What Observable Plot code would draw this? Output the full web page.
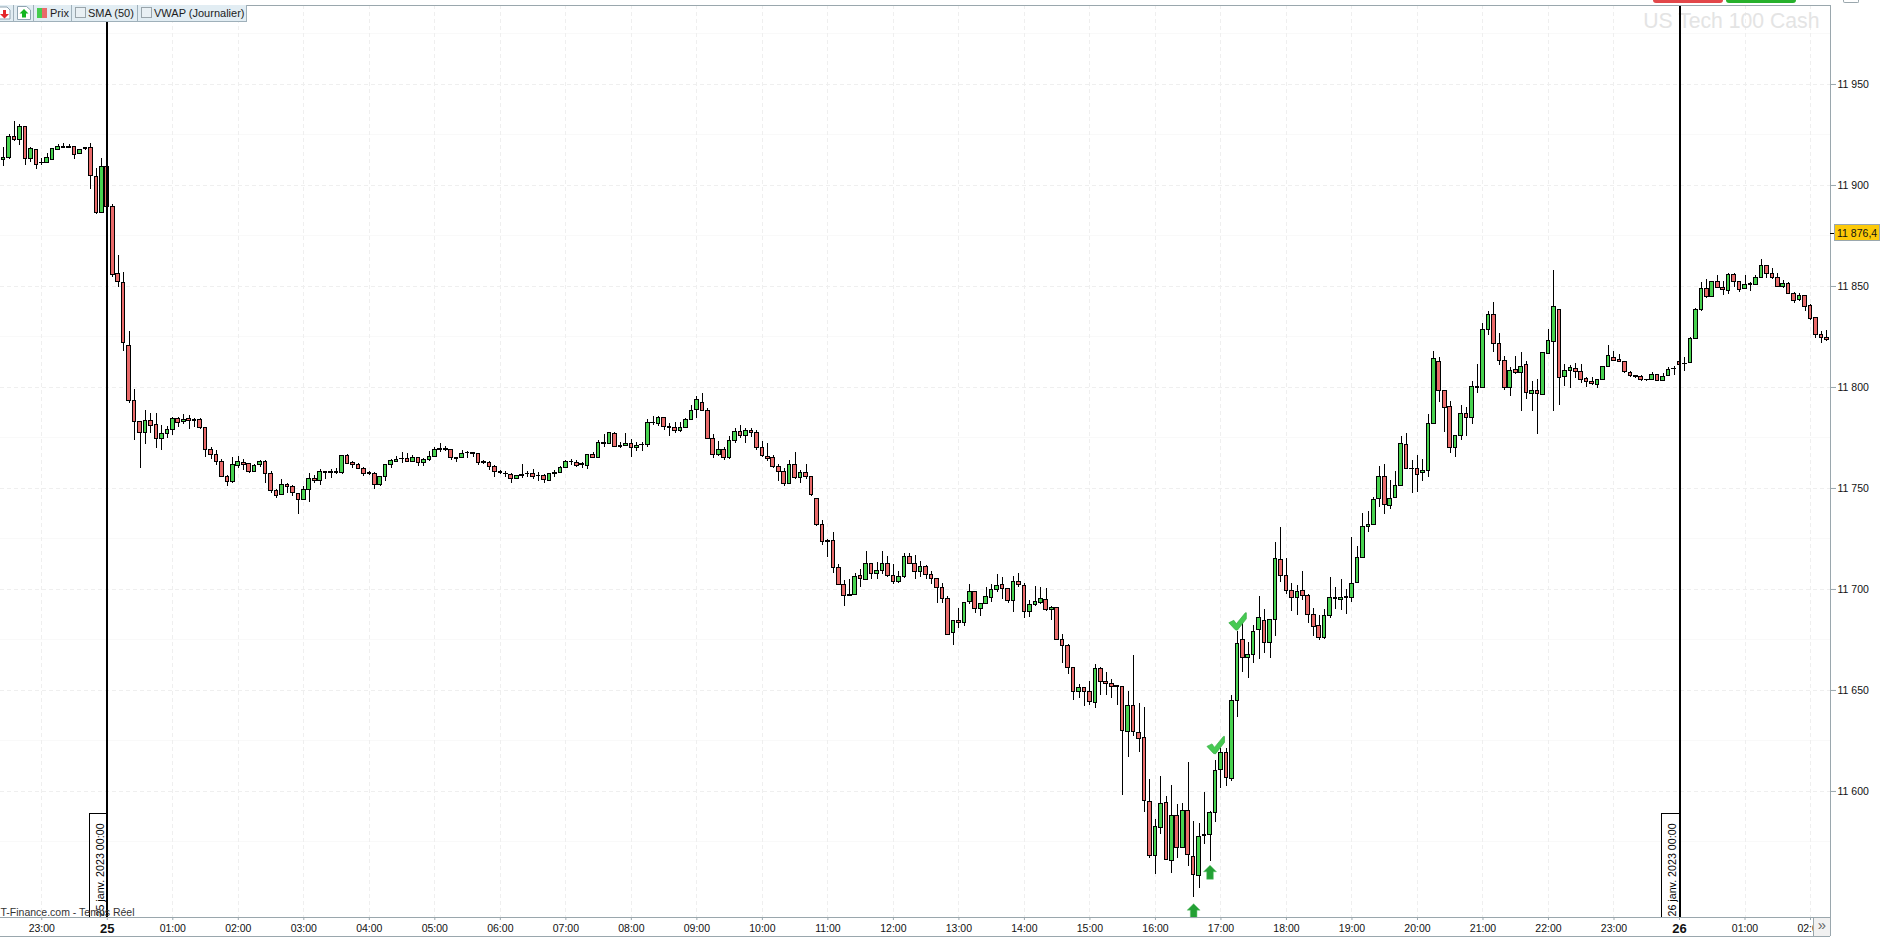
<!DOCTYPE html>
<html lang="fr">
<head>
<meta charset="utf-8">
<title>US Tech 100 Cash</title>
<script src="https://cdn.jsdelivr.net/npm/d3@7"></script>
<script src="https://cdn.jsdelivr.net/npm/@observablehq/plot@0.6"></script>
<style>
  html, body { margin: 0; padding: 0; background: #fff; overflow: hidden; }
  #page { position: relative; width: 1881px; height: 937px; font-family: "Liberation Sans", Arial, sans-serif; }
  #chart svg { display: block; }
  #legend { position: absolute; left: 0; top: 5px; height: 17px; width: 247px; box-sizing: border-box;
            background: #e2edf3; border: 1px solid #9fb0ba; border-left: 0; border-top: 0; font-size: 11px; color: #1c1c1c; }
  #legend .cell { position: absolute; top: 0; height: 16px; line-height: 16px; border-right: 1px solid #9fb0ba; white-space: nowrap; }
  #legend .box { position: absolute; top: 2px; left: 3px; width: 9px; height: 9px; border: 1px solid #9aa5ab; background: #e9f0f4; }
  #legend .label { position: absolute; top: 0; }
  #legend svg { position: absolute; }
  .btn { position: absolute; top: 0; height: 2.5px; border-radius: 0 0 3px 3px; }
  #more { position: absolute; left: 1813px; top: 918px; width: 17px; height: 18px; background: #f1f1f1; border-left: 1px solid #9aa7ad;
          color: #666; font-size: 15px; line-height: 14px; text-align: center; box-sizing: border-box; }
  #corner { position: absolute; left: 1843px; top: 0; width: 16px; height: 3px; border: 1px solid #9aa7ad; border-top: 0; border-radius: 0 0 2px 2px; box-sizing: border-box; }
</style>
</head>
<body>
<div id="page">
  <div id="chart"></div>
  <div id="legend">
    <div class="cell" style="left:0;width:13px">
      <svg width="12" height="14" style="left:0;top:1px"><path d="M-2 1H7L10 4V13H-2Z" fill="#fff" stroke="#8fa3b0"/><path d="M0 8H3V4H6V8H9L4.5 12.5Z" fill="#e3262a"/></svg>
    </div>
    <div class="cell" style="left:14px;width:19px">
      <svg width="16" height="14" style="left:2px;top:1px"><path d="M1.500 .5H10.500L14.500 4V13.500H1.500Z" fill="#fff" stroke="#8fa3b0"/><path d="M8 3L12.500 7.500H10V11.500H6V7.500H3.500Z" fill="#12b51e"/></svg>
    </div>
    <div class="cell" style="left:34px;width:37px">
      <svg width="10" height="10" style="left:3px;top:3px"><rect width="5" height="10" fill="#46cc4e"/><rect x="5" width="5" height="10" fill="#e96a6a"/></svg>
      <span class="label" style="left:16px">Prix</span>
    </div>
    <div class="cell" style="left:72px;width:65px">
      <span class="box"></span><span class="label" style="left:16px">SMA (50)</span>
    </div>
    <div class="cell" style="left:138px;width:108px;border-right:0">
      <span class="box"></span><span class="label" style="left:16px">VWAP (Journalier)</span>
    </div>
  </div>
  <div class="btn" style="left:1653px;width:70px;background:#e2474a"></div>
  <div class="btn" style="left:1726px;width:70px;background:#27b12c"></div>
  <div id="corner"></div>
  <div id="more">»</div>
</div>
<script>
// Prices are written as the part above this base.
const priceBase = 11000;
// Index of the first 5-minute candle, counted from 25 Jan 2023 00:00.
const firstIndex = -20;

const opens = [
  921.4,912.7,913.7,923.9,922.6,928.9,913.2,917.7,911.2,911.2,
  912.7,917.7,919.1,919.1,919.0,915.7,918.5,918.7,904.3,886.5,
  909.2,889.4,856.3,851.8,820.6,793.4,783.0,777.6,783.5,781.5,
  774.6,776.9,779.1,784.5,783.0,784.5,783.8,784.0,780.0,769.2,
  766.7,763.2,755.8,753.3,761.2,762.7,762.2,758.3,761.7,763.2,
  757.3,748.9,746.9,751.8,750.8,747.4,744.4,749.4,754.8,753.8,
  758.3,758.3,758.3,757.8,766.2,762.7,761.7,759.7,757.8,757.3,
  751.7,755.8,761.7,763.2,764.7,764.7,763.2,765.2,762.7,764.2,
  765.7,769.6,769.6,769.1,765.2,765.2,767.7,767.5,767.2,762.9,
  762.7,760.7,758.1,757.4,756.8,754.8,756.6,757.3,757.3,756.3,
  756.3,753.8,757.8,757.8,760.2,763.2,762.7,761.9,761.2,766.7,
  765.2,772.3,772.1,777.1,770.8,771.1,772.1,770.1,771.6,771.6,
  782.5,782.0,785.0,780.5,780.0,778.6,780.0,784.0,789.0,792.4,
  788.5,774.6,766.7,769.1,765.2,773.6,778.1,776.1,778.6,777.6,
  770.2,765.7,765.2,760.7,758.3,752.2,761.7,755.3,757.8,755.8,
  744.9,732.0,724.1,724.1,710.7,702.3,697.4,697.4,706.8,704.8,
  712.7,707.8,709.3,712.7,706.8,703.8,706.3,716.2,712.7,708.8,
  711.2,707.3,705.3,700.8,695.5,678.2,684.2,683.2,693.6,698.5,
  690.1,692.6,696.0,699.5,702.0,700.0,694.1,703.5,701.5,688.6,
  692.1,693.1,695.0,689.6,690.6,675.2,671.8,660.9,649.0,651.0,
  649.0,643.6,660.4,654.0,653.0,652.0,651.8,629.5,642.4,629.0,
  626.6,594.9,568.2,582.0,594.4,565.7,588.0,572.1,590.4,567.7,
  558.2,578.2,578.6,589.5,610.7,619.1,606.3,644.9,675.1,666.2,
  667.7,680.0,684.5,673.6,685.0,714.7,706.8,699.3,695.9,699.3,
  696.9,687.5,682.0,676.1,687.0,695.9,694.9,696.4,695.9,703.3,
  715.7,731.0,732.0,744.9,755.8,741.4,745.4,751.3,771.6,759.8,
  759.8,757.8,758.8,782.0,812.7,798.4,790.4,770.1,776.1,787.0,
  785.0,800.0,799.8,828.6,836.0,821.6,813.2,799.8,808.7,807.3,
  811.2,796.9,798.4,796.4,816.7,822.6,838.4,805.3,808.2,809.2,
  807.8,804.3,802.8,801.3,803.8,810.2,814.7,813.7,812.7,807.3,
  805.8,805.3,803.8,803.8,806.3,803.3,805.8,809.2,812.7,811.7,
  812.2,824.1,838.4,848.8,844.9,852.3,849.3,847.9,855.8,852.3,
  848.8,851.2,850.8,854.3,860.2,856.3,854.3,849.8,851.3,846.4,
  843.4,845.4,840.4,834.5,826.1,824.6
];
const closes = [
  914.9,913.7,923.9,922.4,928.9,913.2,918.0,910.2,910.9,913.7,
  918.0,919.0,918.8,918.8,915.2,917.7,918.2,904.8,886.5,909.2,
  889.4,855.8,852.3,822.1,793.4,783.0,777.6,783.3,781.0,774.6,
  777.1,779.1,784.5,782.4,784.0,783.5,783.5,780.0,769.2,766.7,
  763.2,755.8,753.3,761.7,763.2,761.7,758.3,761.2,763.2,757.3,
  748.9,746.4,751.8,750.8,747.9,744.4,749.4,754.8,753.8,758.3,
  757.8,757.8,757.8,766.2,762.2,761.7,759.7,757.3,757.4,751.8,
  755.8,761.7,763.7,764.2,764.5,763.2,765.2,762.7,764.2,765.7,
  769.1,769.1,769.1,765.2,764.7,767.2,767.4,767.3,762.7,762.7,
  760.7,758.3,757.9,757.3,754.8,756.3,756.3,757.1,755.8,756.0,
  754.3,757.3,757.4,760.2,763.2,762.9,761.2,761.6,766.7,765.2,
  772.6,772.1,777.6,770.6,770.6,772.1,770.1,771.1,771.3,782.5,
  782.2,785.0,780.5,780.0,778.6,780.0,784.0,788.5,793.9,788.5,
  774.6,766.7,769.1,765.2,773.6,778.1,776.1,778.6,777.6,770.0,
  766.2,764.7,760.7,758.3,752.2,761.7,755.3,757.8,755.8,746.9,
  732.0,723.6,723.6,710.7,702.3,696.9,696.9,706.3,705.3,712.7,
  707.8,709.3,712.7,706.8,703.8,706.3,716.2,712.7,708.8,711.2,
  707.3,705.3,700.8,695.4,677.7,684.2,683.2,693.1,698.5,690.1,
  692.6,696.5,699.5,701.5,700.0,694.1,703.5,702.0,688.6,692.1,
  693.6,695.5,689.6,690.6,675.2,671.8,660.9,649.0,651.0,649.0,
  644.1,660.4,654.0,653.0,651.5,651.7,630.0,642.4,629.5,626.1,
  595.4,568.2,582.5,593.9,566.2,588.0,572.1,590.4,568.7,558.7,
  577.6,577.9,589.5,610.2,619.1,606.8,644.9,673.1,666.2,667.7,
  679.0,686.0,673.6,685.0,715.2,706.8,699.3,695.9,698.8,696.9,
  687.5,681.5,676.1,687.0,695.9,695.4,695.9,696.0,702.8,715.7,
  731.0,732.0,744.4,755.8,741.9,744.9,751.3,772.1,759.8,759.4,
  756.8,758.8,782.0,814.2,798.4,790.0,770.1,776.1,787.0,785.0,
  800.0,799.7,828.6,836.0,821.6,813.2,799.8,808.3,807.3,810.2,
  797.4,798.4,796.9,817.2,823.1,839.9,804.8,808.2,809.7,807.8,
  803.8,802.8,801.8,803.8,810.2,815.7,813.2,812.7,807.8,805.8,
  805.4,803.8,803.5,806.3,803.3,805.3,808.8,808.9,811.1,811.4,
  824.1,838.4,848.8,844.9,852.3,849.3,848.4,855.8,852.3,848.4,
  850.8,850.9,854.3,860.2,856.3,854.3,849.8,851.3,846.4,842.9,
  845.4,839.9,834.0,826.1,824.6,823.6
];
const highs = [
  926.2,919.0,925.2,931.7,930.2,928.9,918.8,918.0,913.4,916.0,
  918.0,920.3,921.0,920.3,919.5,918.0,918.8,920.8,908.3,913.4,
  909.2,890.6,865.4,856.8,827.7,799.0,783.0,788.6,787.3,787.3,
  781.0,780.7,785.0,785.0,786.6,786.0,784.5,784.5,780.0,770.3,
  768.8,764.2,756.5,765.2,765.9,764.2,762.2,761.7,763.7,763.7,
  758.3,749.4,754.5,752.3,751.3,747.7,750.8,757.3,756.3,759.2,
  758.3,759.4,759.7,766.2,766.8,763.4,762.2,760.2,758.6,757.8,
  755.8,761.7,764.2,765.7,767.7,767.2,766.2,765.2,764.7,768.2,
  770.1,772.1,770.8,769.1,765.2,768.7,768.2,767.8,767.2,763.9,
  763.2,761.2,758.9,758.6,757.3,756.6,761.9,758.6,759.4,757.8,
  756.8,757.3,758.8,761.1,763.7,764.2,763.7,762.9,766.7,767.8,
  773.6,776.6,777.6,777.7,772.6,777.1,774.1,772.6,772.8,784.0,
  785.6,785.6,785.0,782.2,782.7,782.8,784.7,791.1,795.6,796.9,
  789.4,776.6,773.3,770.1,775.8,779.7,781.0,779.7,779.7,778.6,
  773.3,772.1,766.3,761.7,759.9,763.9,767.7,758.8,761.9,755.8,
  744.9,734.2,724.6,728.1,712.2,704.3,704.8,707.8,709.8,718.7,
  712.7,713.2,718.7,716.2,712.2,708.8,717.7,717.7,716.7,713.7,
  711.7,708.8,705.3,702.8,696.5,684.5,690.8,693.1,702.5,698.5,
  693.1,701.0,702.5,707.6,706.1,700.0,706.6,708.1,703.0,694.7,
  701.6,701.0,700.7,691.7,691.1,677.9,672.8,660.9,653.0,651.0,
  654.6,662.9,661.4,659.1,655.5,652.6,651.8,649.5,667.3,643.4,
  641.4,605.8,586.0,607.4,597.5,602.8,593.6,593.9,614.4,585.0,
  584.0,599.5,590.0,615.2,621.1,621.1,647.4,679.2,683.5,673.6,
  682.2,696.5,689.9,685.0,723.3,730.5,715.2,702.8,701.8,708.7,
  697.4,690.4,687.0,689.9,705.8,700.8,704.8,699.8,725.6,721.1,
  737.5,738.4,745.4,761.0,762.0,753.9,758.2,775.7,777.1,763.7,
  766.3,764.4,786.5,817.8,814.7,798.4,793.1,776.1,790.9,790.1,
  803.0,811.4,831.7,837.5,841.9,826.6,815.2,809.7,815.3,817.3,
  812.7,802.8,804.0,817.2,828.6,858.0,838.4,811.2,810.7,811.7,
  811.4,804.8,804.8,803.8,810.2,820.6,817.8,816.2,812.7,807.8,
  806.1,805.8,804.1,807.4,806.3,806.8,810.1,810.4,812.7,814.7,
  824.6,838.9,852.0,853.3,852.6,855.3,852.3,856.3,856.3,852.3,
  855.3,851.8,855.3,863.2,860.2,858.9,856.3,852.8,851.8,846.9,
  846.4,845.4,840.9,834.5,827.6,828.1
];
const lows = [
  910.7,909.6,913.0,922.0,920.0,910.1,911.6,908.1,909.7,911.1,
  912.4,917.3,918.3,918.6,912.9,915.3,917.5,898.2,885.8,886.3,
  889.3,854.6,849.7,818.0,792.2,773.9,760.1,772.0,777.4,770.0,
  769.0,774.8,776.4,780.4,781.9,779.4,780.4,779.4,765.5,764.1,
  761.6,755.3,751.2,752.3,759.7,759.1,757.6,758.0,760.6,752.7,
  747.4,745.2,746.7,747.7,746.2,737.0,744.1,743.0,752.3,751.7,
  754.6,755.0,756.9,757.1,761.9,759.9,759.2,756.0,756.3,749.5,
  751.2,753.6,759.9,762.7,762.2,762.7,762.9,761.1,761.1,763.2,
  765.5,767.8,768.5,763.7,763.0,765.0,765.0,765.4,761.6,761.9,
  758.9,755.6,756.9,755.6,752.6,754.6,754.8,755.3,754.5,753.6,
  752.6,753.6,755.4,757.3,759.9,761.6,760.6,760.1,759.6,764.7,
  765.0,770.5,771.8,770.5,769.8,770.8,765.4,768.5,768.5,770.5,
  781.4,780.9,778.7,775.9,777.4,777.9,779.9,783.8,784.8,788.0,
  774.1,765.0,766.0,764.0,764.5,772.4,774.8,772.4,775.4,768.8,
  765.5,763.5,760.1,753.6,751.2,752.0,754.6,752.6,754.6,746.2,
  731.4,721.6,716.0,708.1,702.2,691.8,696.7,697.2,701.0,704.6,
  704.8,705.0,707.3,705.8,702.3,702.8,705.3,712.2,705.1,706.1,
  705.1,702.3,693.2,693.2,677.7,672.1,680.5,681.9,692.4,688.1,
  686.5,692.4,693.6,698.5,695.0,692.9,688.4,700.8,685.8,686.3,
  691.8,692.4,689.0,684.8,675.1,663.4,658.1,645.2,646.2,642.2,
  642.8,640.9,647.7,647.7,645.9,642.8,598.0,616.8,627.4,619.3,
  589.6,566.7,558.9,578.7,565.9,559.6,566.7,571.6,562.9,547.7,
  552.2,573.8,565.4,584.8,601.3,602.6,605.1,636.8,659.1,655.8,
  663.2,665.5,668.5,666.0,676.9,703.6,697.7,689.1,687.3,694.4,
  683.3,676.9,674.9,675.4,685.8,689.9,689.8,687.8,693.7,702.8,
  715.7,728.4,731.8,740.7,737.3,739.8,744.9,751.2,759.6,747.7,
  748.2,753.6,755.6,782.0,792.7,777.9,767.5,765.5,773.8,775.9,
  781.7,797.2,799.7,825.7,817.5,811.1,798.5,795.7,806.6,788.3,
  794.2,788.3,776.9,796.2,816.5,788.3,791.3,800.5,799.7,804.3,
  801.8,800.2,800.8,799.7,803.6,810.1,812.9,812.2,806.8,804.8,
  804.6,803.1,803.0,803.6,802.8,802.8,805.4,806.1,810.7,808.1,
  812.0,823.9,837.5,844.0,844.7,848.8,845.7,846.2,849.5,847.2,
  848.3,847.7,850.3,854.1,854.0,853.6,849.8,849.2,846.2,841.8,
  842.7,837.5,833.0,824.3,822.0,822.6
];

const priceTicks = [11600, 11650, 11700, 11750, 11800, 11850, 11900, 11950];
const minorPrices = [11575, 11625, 11675, 11725, 11775, 11825, 11875, 11925, 11975];
const hourOffsets = [-1,1,2,3,4,5,6,7,8,9,10,11,12,13,14,15,16,17,18,19,20,21,22,23,25,26];
const dayOffsets = [0, 24];
const dayLabels = ["25", "26"];
const dayTags = ["25 janv. 2023 00:00", "26 janv. 2023 00:00"];
const lastPrice = 11876.4;
const arrowCandles = [199, 202];
const arrowPrices = [11541, 11560];
const checkCandles = [203, 207];
const checkPrices = [11622.8, 11684];

const midnight = Date.UTC(2023, 0, 25);
const atHour = h => new Date(midnight + h * 3600000);
const atCandle = i => new Date(midnight + i * 300000);
const shift = (d, minutes) => new Date(+d + minutes * 60000);

const candles = opens.map((o, k) => ({
  t: atCandle(k + firstIndex),
  open: priceBase + o,
  close: priceBase + closes[k],
  high: priceBase + highs[k],
  low: priceBase + lows[k]
}));
const hours = hourOffsets.map(atHour);
const days = dayOffsets.map(atHour);
const rising = d => d.close >= d.open;
const falling = d => d.close < d.open;

const bodyMinutes = 1.65;
const xStart = atHour(-1.63), xEnd = atHour(26.305);
const yBottom = 11537.6, yTop = 11989.1, yFooter = 11528.2, yTag = 11588.6;
const priceText = v => d3.format(",")(v).replace(",", " ");
const frameColor = "#9aa7ad", gridColor = "#efefef", font = '"Liberation Sans", Arial, sans-serif';

const arrowSymbol = { draw(c, size) { const k = Math.sqrt(size / Math.PI) / 8;
  [[0,-7],[6.5,-0.5],[3.3,-0.5],[3.3,7],[-3.3,7],[-3.3,-0.5],[-6.5,-0.5]].forEach(([x, y], i) => i ? c.lineTo(x*k, y*k) : c.moveTo(x*k, y*k)); c.closePath(); } };
const checkSymbol = { draw(c, size) { const k = Math.sqrt(size / Math.PI) / 8;
  [[-8.5,1],[-3.5,-1.5],[-1,2],[8,-9],[9,-9],[9,-3],[0,8.5],[-2,8]].forEach(([x, y], i) => i ? c.lineTo(x*k, y*k) : c.moveTo(x*k, y*k)); c.closePath(); } };

const plot = Plot.plot({
  width: 1881, height: 937,
  marginLeft: 0, marginRight: 51, marginTop: 5, marginBottom: 20,
  style: { fontFamily: font, fontSize: "10.5px", background: "#fff", color: "#111" },
  x: { type: "utc", domain: [xStart, xEnd], label: null },
  y: { type: "linear", domain: [yBottom, yTop], label: null },
  marks: [
    Plot.ruleY(minorPrices, { stroke: "#f9f9f9", shapeRendering: "crispEdges" }),
    Plot.ruleY(priceTicks, { stroke: gridColor, strokeDasharray: "4 3", shapeRendering: "crispEdges" }),
    Plot.ruleX([...hours, ...days], { stroke: gridColor, strokeDasharray: "4 3", shapeRendering: "crispEdges" }),
    Plot.text(["US Tech 100 Cash"], { frameAnchor: "top-right", dx: -11, dy: 7, fontSize: 21.2, fill: "#e4e4e4", stroke: "none" }),
    // tags of the two day lines
    Plot.rect(days, { x1: d => shift(d, -16.2), x2: d => d, y1: yBottom, y2: yTag, fill: "#fff", stroke: "#000", shapeRendering: "crispEdges" }),
    Plot.text(days, { x: d => shift(d, -6.2), y: yBottom, text: (d, i) => dayTags[i], rotate: -90, textAnchor: "start", dx: 0, dy: -1, fontSize: 10.7, fill: "#000" }),
    // wicks and bodies
    Plot.ruleX(candles, { x: "t", y1: "low", y2: "high", stroke: "#000", strokeWidth: 1, shapeRendering: "crispEdges" }),
    Plot.rect(candles, { filter: rising, x1: d => shift(d.t, -bodyMinutes), x2: d => shift(d.t, bodyMinutes), y1: "open", y2: "close", fill: "#47d24f", stroke: "#000", strokeWidth: 1, shapeRendering: "crispEdges" }),
    Plot.rect(candles, { filter: falling, x1: d => shift(d.t, -bodyMinutes), x2: d => shift(d.t, bodyMinutes), y1: "open", y2: "close", fill: "#e96a6a", stroke: "#000", strokeWidth: 1, shapeRendering: "crispEdges" }),
    // day lines
    Plot.ruleX(days, { y1: yBottom, y2: yTop, stroke: "#000", strokeWidth: 2, shapeRendering: "crispEdges" }),
    // markers
    Plot.dot(arrowCandles, { x: atCandle, y: (d, i) => arrowPrices[i], r: 8, symbol: arrowSymbol, fill: "#23a034", stroke: "#5cc06a", strokeWidth: 0.5 }),
    Plot.dot(checkCandles, { x: atCandle, y: (d, i) => checkPrices[i], r: 8, symbol: checkSymbol, fill: "#46c952", stroke: "#33ad40", strokeWidth: 0.7 }),
    Plot.text(["T-Finance.com - Temps Réel"], { frameAnchor: "bottom-left", dx: 0, dy: -2, fontSize: 10.5, fill: "#333", textAnchor: "start" }),
    // frame
    Plot.ruleY([yTop, yBottom, yFooter], { x1: xStart, x2: xEnd, stroke: frameColor, shapeRendering: "crispEdges" }),
    Plot.ruleX([xEnd], { y1: yFooter, y2: yTop, stroke: frameColor, shapeRendering: "crispEdges" }),
    // axes
    Plot.axisX({ ticks: hours, tickFormat: d3.utcFormat("%H:%M"), tickSize: 3, tickPadding: 4, stroke: frameColor, fill: "#111", label: null, fontSize: 10.5 }),
    Plot.axisX({ ticks: days, tickFormat: (d, i) => dayLabels[i], tickSize: 3, tickPadding: 3, stroke: frameColor, fill: "#111", label: null, fontSize: 13, fontWeight: "bold" }),
    Plot.axisY({ anchor: "right", ticks: priceTicks, tickFormat: priceText, tickSize: 5, tickPadding: 2, stroke: frameColor, fill: "#111", label: null, fontSize: 10.5 }),
    // last price tag
    Plot.ruleY([lastPrice], { x1: xEnd, x2: atHour(26.38), stroke: "#000", shapeRendering: "crispEdges" }),
    Plot.rect([lastPrice], { x1: atHour(26.38), x2: atHour(27.06), y1: lastPrice - 4.1, y2: lastPrice + 4.1, fill: "#fcc908", stroke: "#9aa7ad", shapeRendering: "crispEdges" }),
    Plot.text([lastPrice], { x: atHour(26.405), y: lastPrice, text: d => priceText(Math.trunc(d)) + ",4", textAnchor: "start", fontSize: 10.5, fill: "#111" })
  ]
});
document.getElementById("chart").appendChild(plot);
</script>
</body>
</html>
